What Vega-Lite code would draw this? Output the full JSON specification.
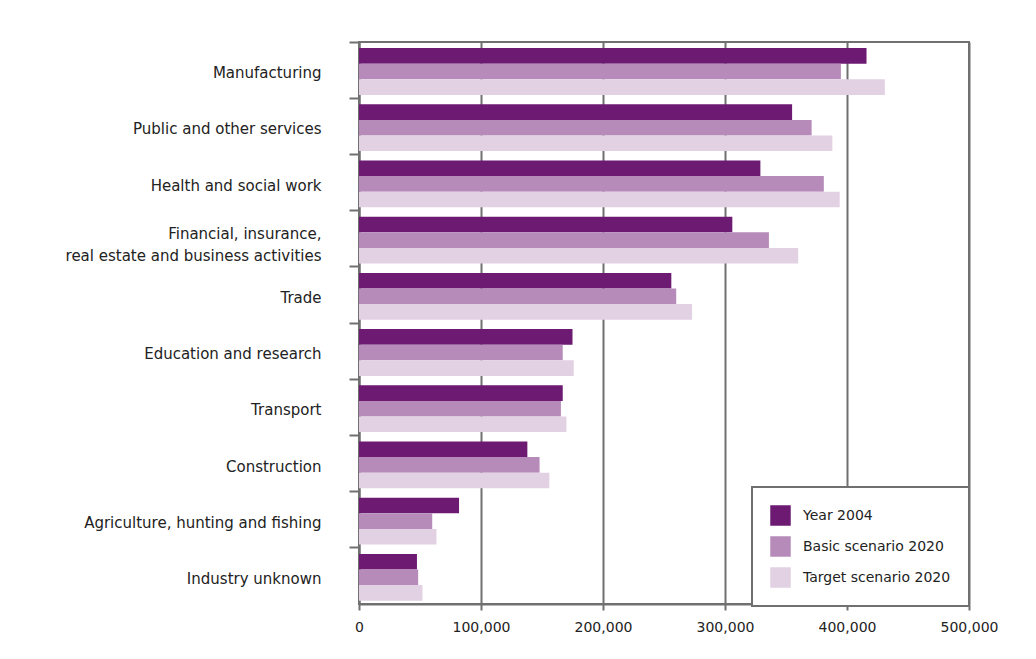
{
  "$schema": "https://vega.github.io/schema/vega-lite/v6.json",
  "width": 610,
  "height": 562,
  "autosize": "none",
  "padding": {"left": 359, "top": 42, "right": 67, "bottom": 55},
  "background": "white",
  "config": {
    "font": "DejaVu Sans",
    "view": {"stroke": "#707070", "strokeWidth": 2}
  },
  "data": {
    "values": [
      {"category": "Manufacturing", "series": "Year 2004", "value": 416000},
      {"category": "Manufacturing", "series": "Basic scenario 2020", "value": 395000},
      {"category": "Manufacturing", "series": "Target scenario 2020", "value": 431000},
      {"category": "Public and other services", "series": "Year 2004", "value": 355000},
      {"category": "Public and other services", "series": "Basic scenario 2020", "value": 371000},
      {"category": "Public and other services", "series": "Target scenario 2020", "value": 388000},
      {"category": "Health and social work", "series": "Year 2004", "value": 329000},
      {"category": "Health and social work", "series": "Basic scenario 2020", "value": 381000},
      {"category": "Health and social work", "series": "Target scenario 2020", "value": 394000},
      {"category": "Financial, insurance,|real estate and business activities", "series": "Year 2004", "value": 306000},
      {"category": "Financial, insurance,|real estate and business activities", "series": "Basic scenario 2020", "value": 336000},
      {"category": "Financial, insurance,|real estate and business activities", "series": "Target scenario 2020", "value": 360000},
      {"category": "Trade", "series": "Year 2004", "value": 256000},
      {"category": "Trade", "series": "Basic scenario 2020", "value": 260000},
      {"category": "Trade", "series": "Target scenario 2020", "value": 273000},
      {"category": "Education and research", "series": "Year 2004", "value": 175000},
      {"category": "Education and research", "series": "Basic scenario 2020", "value": 167000},
      {"category": "Education and research", "series": "Target scenario 2020", "value": 176000},
      {"category": "Transport", "series": "Year 2004", "value": 167000},
      {"category": "Transport", "series": "Basic scenario 2020", "value": 165500},
      {"category": "Transport", "series": "Target scenario 2020", "value": 170000},
      {"category": "Construction", "series": "Year 2004", "value": 138000},
      {"category": "Construction", "series": "Basic scenario 2020", "value": 148000},
      {"category": "Construction", "series": "Target scenario 2020", "value": 156000},
      {"category": "Agriculture, hunting and fishing", "series": "Year 2004", "value": 82000},
      {"category": "Agriculture, hunting and fishing", "series": "Basic scenario 2020", "value": 60000},
      {"category": "Agriculture, hunting and fishing", "series": "Target scenario 2020", "value": 63500},
      {"category": "Industry unknown", "series": "Year 2004", "value": 47500},
      {"category": "Industry unknown", "series": "Basic scenario 2020", "value": 48500},
      {"category": "Industry unknown", "series": "Target scenario 2020", "value": 52000}
    ]
  },
  "mark": {"type": "bar"},
  "encoding": {
    "y": {
      "field": "category",
      "type": "nominal",
      "sort": null,
      "scale": {"paddingInner": 0, "paddingOuter": 0},
      "axis": {
        "title": null,
        "bandPosition": 0,
        "labelExpr": "split(datum.label, '|')",
        "labelOffset": {"condition": {"test": "indexof(datum.value, '|') >= 0", "value": -5}, "value": 3},
        "labelFontSize": 15,
        "labelColor": "#222222",
        "labelLimit": 400,
        "labelPadding": 28,
        "labelLineHeight": 22,
        "tickSize": 10,
        "tickWidth": 2,
        "tickColor": "#707070",
        "domainColor": "#707070",
        "domainWidth": 2,
        "grid": false
      }
    },
    "yOffset": {
      "field": "series",
      "type": "nominal",
      "sort": ["Year 2004", "Basic scenario 2020", "Target scenario 2020"],
      "scale": {"paddingInner": 0, "paddingOuter": 0.3, "align": 0.65}
    },
    "x": {
      "field": "value",
      "type": "quantitative",
      "scale": {"domain": [0, 500000], "nice": false},
      "axis": {
        "title": null,
        "values": [0, 100000, 200000, 300000, 400000, 500000],
        "format": ",d",
        "labelFlush": false,
        "labelFontSize": 14,
        "labelColor": "#222222",
        "labelPadding": 10,
        "tickSize": 6,
        "tickWidth": 2,
        "tickColor": "#707070",
        "domainColor": "#707070",
        "domainWidth": 2,
        "grid": true,
        "gridColor": "#707070",
        "gridWidth": 2
      }
    },
    "color": {
      "field": "series",
      "type": "nominal",
      "scale": {
        "domain": ["Year 2004", "Basic scenario 2020", "Target scenario 2020"],
        "range": ["#6c1a72", "#b68bba", "#e2d0e3"]
      },
      "legend": {
        "title": null,
        "orient": "none",
        "legendX": 393,
        "legendY": 445,
        "fillColor": "white",
        "strokeColor": "#707070",
        "padding": 18,
        "symbolType": "square",
        "symbolSize": 420,
        "symbolStrokeWidth": 0,
        "labelFontSize": 14,
        "labelColor": "#222222",
        "labelOffset": 12,
        "rowPadding": 10,
        "encode": {"legend": {"update": {"strokeWidth": {"value": 2}}}}
      }
    }
  }
}
